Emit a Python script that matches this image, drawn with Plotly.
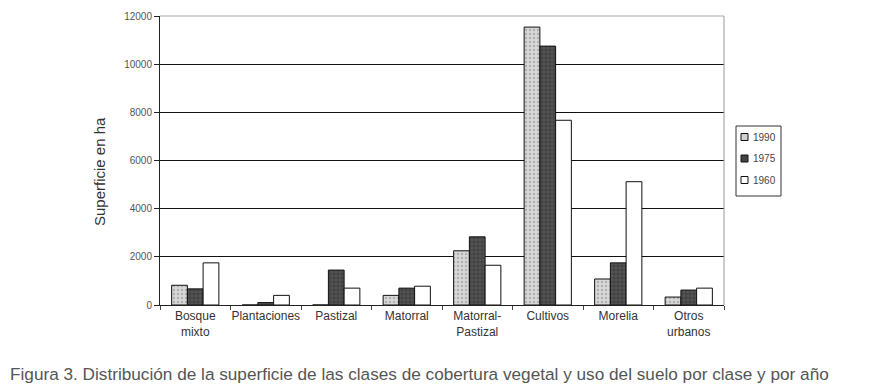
import plotly.graph_objects as go

categories = ["Bosque<br>mixto", "Plantaciones", "Pastizal", "Matorral",
              "Matorral-<br>Pastizal", "Cultivos", "Morelia", "Otros<br>urbanos"]
years = ["1990", "1975", "1960"]
v1990 = [820, 0, 0, 400, 2250, 11540, 1080, 330]
v1975 = [670, 100, 1450, 700, 2830, 10750, 1750, 620]
v1960 = [1750, 400, 700, 780, 1650, 7670, 5120, 700]
yticks = [0, 2000, 4000, 6000, 8000, 10000, 12000]
ytext = ["0", "2000", "4000", "6000", "8000", "10000", "12000"]

fills = ["#d0d0d0", "#444", "white"]

fig = go.Figure()
fig.add_trace(go.Bar(name=years[0], x=categories, y=v1990,
                     marker=dict(color=fills[0], line=dict(color="#111", width=1),
                                 pattern=dict(shape=".", fgcolor="#888", bgcolor="#d8d8d8", size=4, solidity=0.3))))
fig.add_trace(go.Bar(name=years[1], x=categories, y=v1975,
                     marker=dict(color=fills[1], line=dict(color="#111", width=1),
                                 pattern=dict(shape="+", fgcolor="#222", bgcolor="#555", size=4, solidity=0.4))))
fig.add_trace(go.Bar(name=years[2], x=categories, y=v1960,
                     marker=dict(color=fills[2], line=dict(color="#111", width=1))))

OFF = 8  # page body margin
W, H = 873 - OFF, 392 - OFF
L, R, T, B = 160 - OFF, 724 - OFF, 16 - OFF, 305 - OFF
pw, ph = R - L, B - T


def px(x):
    return (x - OFF - L) / pw


def py(y):
    return (B - (y - OFF)) / ph


fig.update_layout(
    width=W, height=H,
    margin=dict(l=L, r=W - R, t=T, b=H - B, autoexpand=False),
    barmode="group", bargap=0.33, bargroupgap=0,
    plot_bgcolor="white", paper_bgcolor="white",
    font=dict(family="Liberation Sans, Arial, sans-serif", color="#333"),
    showlegend=False,
)
fig.update_yaxes(range=[0, 12000], tickvals=yticks, ticktext=ytext, showgrid=True,
                 gridcolor="#111", gridwidth=1, showline=True, linecolor="#222",
                 linewidth=1, ticks="outside", ticklen=5, tickcolor="#222",
                 tickfont=dict(size=10, color="#555"), zeroline=False, automargin=False)
fig.update_xaxes(showline=True, linecolor="#222", linewidth=1, ticks="outside",
                 tickson="boundaries", ticklen=4, tickcolor="#444", tickangle=0,
                 tickfont=dict(size=12, color="#333"), automargin=False)

fig.add_shape(type="line", xref="paper", yref="paper", x0=0, x1=1, y0=1, y1=1,
              line=dict(color="#aaa", width=1))
fig.add_shape(type="line", xref="paper", yref="paper", x0=1, x1=1, y0=0, y1=1,
              line=dict(color="#999", width=1))

# legend box
fig.add_shape(type="rect", xref="paper", yref="paper",
              x0=px(736), x1=px(781), y0=py(196), y1=py(126),
              line=dict(color="#333", width=1), fillcolor="white")
for i, yr in enumerate(years):
    yc = 137 + i * 21.5
    fig.add_shape(type="rect", xref="paper", yref="paper",
                  x0=px(741), x1=px(748), y0=py(yc + 3.5), y1=py(yc - 3.5),
                  line=dict(color="#111", width=1), fillcolor=fills[i])
    fig.add_annotation(text=yr, xref="paper", yref="paper", x=px(751), y=py(yc),
                       xanchor="left", yanchor="middle", showarrow=False,
                       font=dict(size=10, color="#444"))

fig.add_annotation(text="Superficie en ha", xref="paper", yref="paper",
                   x=px(99), y=py(172), textangle=-90, showarrow=False,
                   xanchor="center", yanchor="middle",
                   font=dict(size=15, color="#333"))
fig.add_annotation(text="Figura 3. Distribución de la superficie de las clases de cobertura vegetal y uso del suelo por clase y por año",
                   xref="paper", yref="paper", x=px(8), y=py(374),
                   xanchor="left", yanchor="middle", showarrow=False,
                   font=dict(size=17.2, color="#555"))

fig.write_html("out.html")
